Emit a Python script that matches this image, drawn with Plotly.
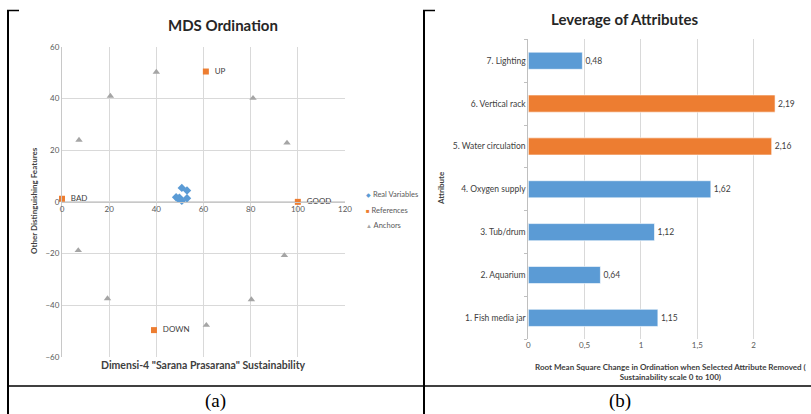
import plotly.graph_objects as go

W, H = 811, 414

# ---------------- (a) MDS Ordination data ----------------
real_x = [50.8, 53.0, 48.4, 49.8, 53.0, 50.8, 49.3]
real_y = [5.4, 4.4, 1.8, 1.6, 1.4, 0.4, 1.2]

ref_labels = ["GOOD", "BAD", "UP", "DOWN"]
ref_x = [100, 0, 61, 39]
ref_y = [0, 1.2, 50.4, -49.6]

anchor_x = [7.2, 20.5, 40, 81, 95.4, 6.9, 19.3, 61.2, 80.3, 94.3]
anchor_y = [23.9, 40.9, 50.2, 40.1, 22.8, -18.8, -37.4, -47.7, -37.8, -20.7]

legend_names = ["Real Variables", "References", "Anchors"]

# ---------------- (b) Leverage data ----------------
attributes = ["1. Fish media jar", "2. Aquarium", "3. Tub/drum", "4. Oxygen supply",
              "5. Water circulation", "6. Vertical rack", "7. Lighting"]
leverage = [1.15, 0.64, 1.12, 1.62, 2.16, 2.19, 0.48]
highlight = [False, False, False, False, True, True, False]

BLUE = "#5B9BD5"
ORANGE = "#ED7D31"
GRAY = "#A5A5A5"
GRID = "#D9D9D9"
TXT = "#595959"
FONT = "Lato, 'Open Sans', sans-serif"
SERIF = "'Liberation Serif', 'DejaVu Serif', serif"


def px(x):
    return x / W


def py(y):
    return 1 - y / H


fig = go.Figure()

fig.add_trace(go.Scatter(
    x=real_x, y=real_y, mode="markers", name=legend_names[0],
    marker=dict(symbol="diamond", size=6.5, color=BLUE),
    xaxis="x", yaxis="y", cliponaxis=False, showlegend=False))
fig.add_trace(go.Scatter(
    x=ref_x, y=ref_y, mode="markers+text", name=legend_names[1],
    text=["  " + t for t in ref_labels], textposition="middle right",
    textfont=dict(size=8, color="#404040"),
    marker=dict(symbol="square", size=6, color=ORANGE),
    xaxis="x", yaxis="y", cliponaxis=False, showlegend=False))
fig.add_trace(go.Scatter(
    x=anchor_x, y=anchor_y, mode="markers", name=legend_names[2],
    marker=dict(symbol="triangle-up", size=6.5, color=GRAY),
    xaxis="x", yaxis="y", cliponaxis=False, showlegend=False))

fig.add_trace(go.Bar(
    x=leverage, y=attributes, orientation="h",
    marker=dict(color=[ORANGE if h else BLUE for h in highlight],
                line=dict(color="rgba(255,255,255,0.6)", width=1)),
    texttemplate="%{x:.2f}", textposition="outside",
    textfont=dict(size=8.5, color="#404040"),
    cliponaxis=False, showlegend=False,
    xaxis="x2", yaxis="y2"))

shapes = []
# table frame lines
shapes.append(dict(type="line", xref="paper", yref="paper", x0=px(8), x1=px(8), y0=py(10), y1=0,
                   line=dict(color="black", width=2)))
shapes.append(dict(type="line", xref="paper", yref="paper", x0=px(7), x1=px(19), y0=py(10.5), y1=py(10.5),
                   line=dict(color="black", width=1.5)))
shapes.append(dict(type="line", xref="paper", yref="paper", x0=px(424), x1=px(424), y0=py(10), y1=0,
                   line=dict(color="black", width=2)))
shapes.append(dict(type="line", xref="paper", yref="paper", x0=px(423), x1=px(435), y0=py(10.5), y1=py(10.5),
                   line=dict(color="black", width=1.5)))
shapes.append(dict(type="line", xref="paper", yref="paper", x0=px(8), x1=1, y0=py(386), y1=py(386),
                   line=dict(color="black", width=1.3)))


def ann(text, x, y, size, color="#404040", angle=0, family=None, xanchor="center"):
    d = dict(text=text, x=px(x), y=py(y), xref="paper", yref="paper", showarrow=False,
             xanchor=xanchor, yanchor="middle", textangle=angle,
             font=dict(size=size, color=color))
    if family:
        d["font"]["family"] = family
    return d


annotations = [
    ann("<b>MDS Ordination</b>", 223, 25, 15, "#262626"),
    ann("<b>Other Distinguishing Features</b>", 34, 201, 8, angle=-90),
    ann("<b>Dimensi-4 \"Sarana Prasarana\" Sustainability</b>", 203, 365, 10.5),
    ann("<b>Leverage of Attributes</b>", 625, 19, 15, "#262626"),
    ann("<b>Attribute</b>", 441, 188, 8, angle=-90),
    ann("<b>Root Mean Square Change in Ordination when Selected Attribute Removed (<br>"
        "Sustainability scale 0 to 100)</b>", 670, 371.5, 8),
    ann("(a)", 215, 401, 19, "black", family=SERIF),
    ann("(b)", 620, 401, 19, "black", family=SERIF),
]

# custom compact legend for panel (a)
leg_colors = [BLUE, ORANGE, GRAY]
leg_glyphs = ["◆", "■", "▲"]
leg_rows = [194, 210, 225]
for name, col, g, yy in zip(legend_names, leg_colors, leg_glyphs, leg_rows):
    annotations.append(dict(
        text=f"<span style='color:{col};font-size:6px'>{g}</span> {name}",
        x=px(364), y=py(yy), xref="paper", yref="paper", showarrow=False,
        xanchor="left", yanchor="middle", font=dict(size=7.5, color=TXT)))

axis_common = dict(automargin=False)

fig.update_layout(
    template="none",
    width=W, height=H,
    margin=dict(l=0, r=0, t=0, b=0, pad=0),
    paper_bgcolor="white", plot_bgcolor="white",
    font=dict(family=FONT, size=8, color=TXT),
    separators=", ",
    bargap=0.6,
    shapes=shapes,
    annotations=annotations,
    showlegend=False,
    xaxis=dict(domain=[px(62), px(345)], range=[0, 120], dtick=20, anchor="free",
               position=py(201.7), showgrid=True, gridcolor=GRID, gridwidth=1, zeroline=False,
               showline=True, linecolor="#C8C8C8", ticks="", ticklen=0,
               tickfont=dict(size=8, color=TXT), **axis_common),
    yaxis=dict(domain=[py(357), py(46.7)], range=[-60, 60], dtick=20, anchor="x",
               showgrid=True, gridcolor=GRID, gridwidth=1, zeroline=False, showline=True,
               linecolor="#C8C8C8", ticks="", ticklen=0,
               tickfont=dict(size=8, color=TXT), **axis_common),
    xaxis2=dict(domain=[px(528.3), px(810)], range=[0, 2.5], dtick=0.5, anchor="y2",
                showgrid=True, gridcolor=GRID, gridwidth=1, zeroline=False, showline=False,
                ticks="", ticklen=0, tickfont=dict(size=8, color=TXT), **axis_common),
    yaxis2=dict(domain=[py(339.3), py(39.3)], anchor="x2", type="category",
                showline=True, linecolor="#BFBFBF", ticks="outside", tickson="boundaries",
                ticklen=3, tickcolor="#BFBFBF", showgrid=False,
                tickfont=dict(size=8.5, color="#404040"), **axis_common),
)

fig.write_html(
    "out.html",
    config={"displayModeBar": False},
    post_script="document.body.style.margin='0';document.body.style.padding='0';"
                "document.documentElement.style.overflow='hidden';",
)
